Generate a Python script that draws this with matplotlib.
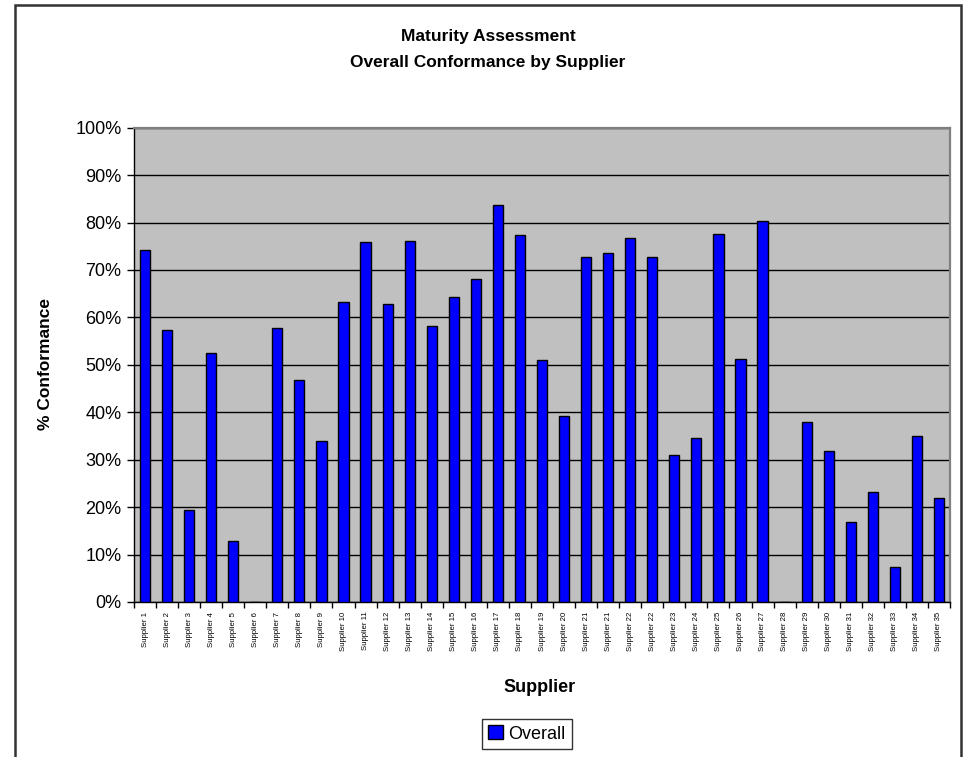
import matplotlib.pyplot as plt
from matplotlib.patches import Rectangle
from matplotlib.ticker import PercentFormatter

plt.rcParams['font.family'] = ['Liberation Sans', 'DejaVu Sans']

suppliers = ["Supplier %d" % n for n in range(1, 21)] + \
    ["Supplier 21", "Supplier 21", "Supplier 22", "Supplier 22"] + \
    ["Supplier %d" % n for n in range(23, 36)]
overall = [74.2, 57.3, 19.3, 52.4, 12.9, 0.0, 57.8, 46.9, 34.0, 63.3,
           75.9, 62.8, 76.2, 58.1, 64.2, 68.0, 83.6, 77.3, 51.0, 39.2,
           72.7, 73.5, 76.7, 72.7, 31.0, 34.6, 77.6, 51.2, 80.3, 0.0,
           37.9, 31.8, 16.8, 23.1, 7.4, 34.9, 22.0]
yticks = list(range(0, 101, 10))

W, H = 963, 757
fig = plt.figure(figsize=(W / 100, H / 100), dpi=100)
fig.patch.set_facecolor('white')

# chart frame
fig.patches.append(Rectangle((15 / W, -0.05), (961 - 15) / W, 1.05 - 5 / H,
                             transform=fig.transFigure, fill=False,
                             edgecolor='#333333', linewidth=1.8))

ax = fig.add_axes([134 / W, 1 - 602 / H, (950 - 134) / W, (602 - 127.7) / H])
ax.set_facecolor('#C0C0C0')

x = list(range(len(suppliers)))
ax.bar(x, overall, width=0.46, color='#0000FF', edgecolor='black',
       linewidth=1.0, zorder=3, label='Overall')

ax.set_xlim(-0.5, len(suppliers) - 0.5)
ax.set_ylim(0, 100)
ax.set_yticks(yticks)
ax.yaxis.set_major_formatter(PercentFormatter(decimals=0))
ax.yaxis.grid(True, color='black', linewidth=1.0, zorder=1)
ax.set_axisbelow(True)

ax.set_xticks(x)
ax.set_xticklabels(suppliers, rotation=90, fontsize=5.6)
ax.set_xticks([i - 0.5 for i in range(len(suppliers) + 1)], minor=True)
ax.tick_params(axis='x', which='major', length=0, pad=7)
ax.tick_params(axis='x', which='minor', length=4, width=1, direction='out')
ax.tick_params(axis='y', length=5, width=1, labelsize=13, pad=4)

for side in ('left', 'bottom'):
    ax.spines[side].set_color('black')
    ax.spines[side].set_linewidth(1.0)
for side in ('top', 'right'):
    ax.spines[side].set_color('#808080')
    ax.spines[side].set_linewidth(1.6)

fig.text(488 / W, 1 - 37 / H, 'Maturity Assessment', ha='center', va='center',
         fontsize=12.5, fontweight='bold')
fig.text(488 / W, 1 - 62 / H, 'Overall Conformance by Supplier', ha='center',
         va='center', fontsize=12.5, fontweight='bold')
fig.text(45 / W, 1 - 364 / H, '% Conformance', ha='center', va='center',
         rotation=90, fontsize=12.5, fontweight='bold')
fig.text(540 / W, 1 - 687 / H, 'Supplier', ha='center', va='center',
         fontsize=13, fontweight='bold')

leg = fig.legend(loc='center', bbox_to_anchor=(527 / W, 1 - 734 / H),
                 fontsize=13, frameon=True, fancybox=False, handlelength=0.8,
                 handleheight=0.8, handletextpad=0.3, borderpad=0.35,
                 borderaxespad=0)
leg.get_frame().set_edgecolor('black')
leg.get_frame().set_linewidth(1.0)

fig.savefig('out.png', dpi=100)
